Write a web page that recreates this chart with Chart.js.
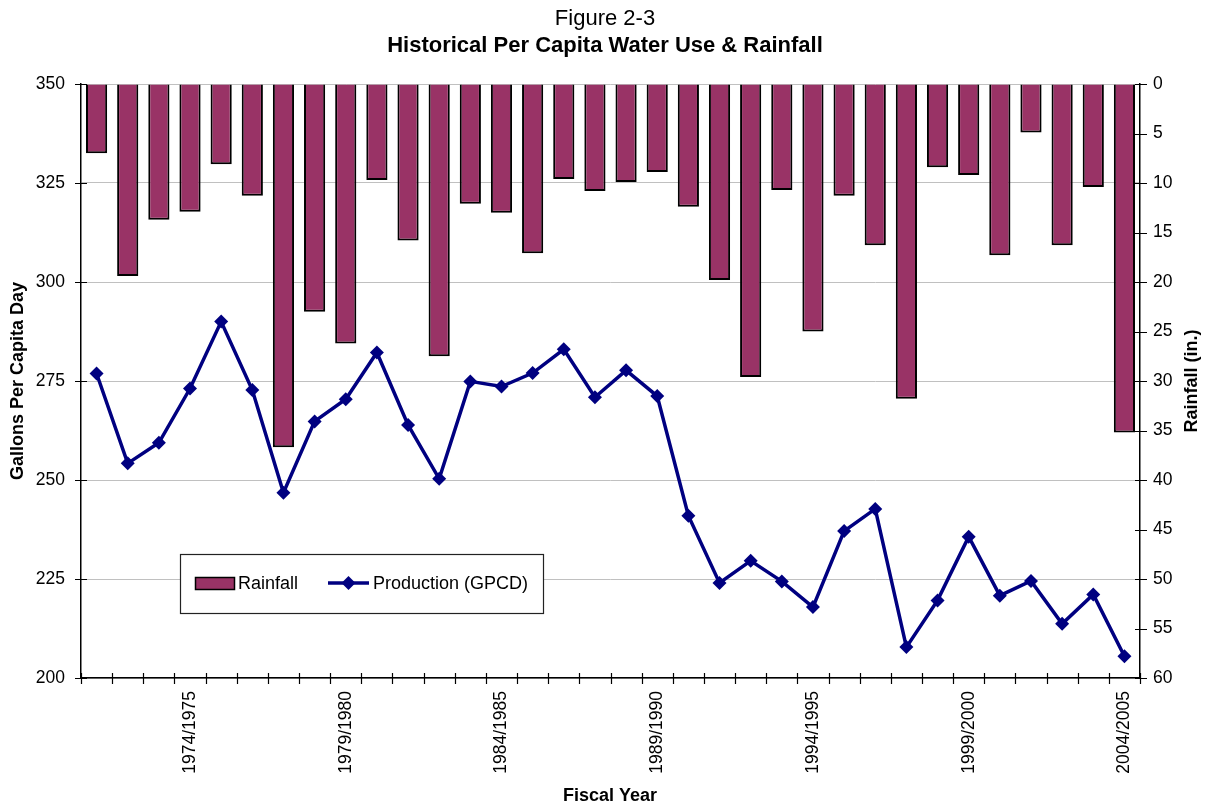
<!DOCTYPE html>
<html>
<head>
<meta charset="utf-8">
<script src="https://cdn.jsdelivr.net/npm/chart.js@4.4.1/dist/chart.umd.min.js"></script>
<style>
  html, body { margin: 0; padding: 0; background: #fff; }
  canvas { display: block; }
</style>
</head>
<body>
<canvas id="chart" width="1207" height="806"></canvas>
<script>
// Fiscal years on the category axis
const fiscalYears = [
  '1971/1972', '1972/1973', '1973/1974', '1974/1975', '1975/1976',
  '1976/1977', '1977/1978', '1978/1979', '1979/1980', '1980/1981',
  '1981/1982', '1982/1983', '1983/1984', '1984/1985', '1985/1986',
  '1986/1987', '1987/1988', '1988/1989', '1989/1990', '1990/1991',
  '1991/1992', '1992/1993', '1993/1994', '1994/1995', '1995/1996',
  '1996/1997', '1997/1998', '1998/1999', '1999/2000', '2000/2001',
  '2001/2002', '2002/2003', '2003/2004', '2004/2005'
];

// Annual rainfall, inches (bars hang from the top on the reversed right axis)
const rainfallInches = [
  7.0, 19.4, 13.7, 12.9, 8.1, 11.3, 36.7, 23.0, 26.2, 9.7,
  15.8, 27.5, 12.1, 13.0, 17.1, 9.6, 10.8, 9.9, 8.9, 12.4,
  19.8, 29.6, 10.7, 25.0, 11.3, 16.3, 31.8, 8.4, 9.2, 17.3,
  4.9, 16.3, 10.4, 35.2
];

// Water production, gallons per capita per day
const productionGPCD = [
  276.9, 254.2, 259.4, 273.1, 290.0, 272.7, 246.8, 264.8, 270.4, 282.2,
  263.9, 250.3, 274.9, 273.6, 277.0, 283.0, 270.9, 277.7, 271.2, 241.0,
  224.0, 229.6, 224.4, 217.9, 237.1, 242.7, 207.8, 219.6, 235.7, 220.8,
  224.5, 213.7, 221.1, 205.5
];

// Axis ranges and tick steps
const gpcdAxis = [200, 350, 25];
const rainAxis = [0, 60, 5];

// Every fifth fiscal year gets a label
const labelEvery = 5;
const labelOffset = 3;

const FONT = "'Liberation Sans', Arial, Helvetica, sans-serif";
Chart.defaults.font.family = FONT;
Chart.defaults.color = '#000';

const BAR_COLOR = '#993366';
const LINE_COLOR = '#000080';

// Titles, axis titles, crossing tick marks and the boxed legend
const decorations = {
  id: 'decorations',
  afterDraw(chart) {
    const ctx = chart.ctx;
    const { x, y, rain } = chart.scales;
    ctx.save();

    // Tick marks crossing each axis line
    ctx.strokeStyle = '#000';
    ctx.lineWidth = 1.2;
    ctx.beginPath();
    y.ticks.forEach((t, i) => {
      const py = Math.round(y.getPixelForTick(i)) + 0.5;
      ctx.moveTo(y.right - 6, py); ctx.lineTo(y.right + 6, py);
    });
    rain.ticks.forEach((t, i) => {
      const py = Math.round(rain.getPixelForTick(i)) + 0.5;
      ctx.moveTo(rain.left - 5, py); ctx.lineTo(rain.left + 7, py);
    });
    const n = fiscalYears.length;
    for (let i = 0; i <= n; i++) {
      const px = Math.round(x.left + i * (x.width / n)) + 0.5;
      ctx.moveTo(px, x.top - 5); ctx.lineTo(px, x.top + 6);
    }
    ctx.stroke();

    // Chart titles
    ctx.fillStyle = '#000';
    ctx.textAlign = 'center';
    ctx.textBaseline = 'middle';
    ctx.font = `22px ${FONT}`;
    ctx.fillText('Figure 2-3', 605, 19);
    ctx.font = `bold 22px ${FONT}`;
    ctx.fillText('Historical Per Capita Water Use & Rainfall', 605, 46);

    // Axis titles
    ctx.font = `bold 18px ${FONT}`;
    ctx.fillText('Fiscal Year', 610, 796);
    const midY = (chart.chartArea.top + chart.chartArea.bottom) / 2;
    ctx.save();
    ctx.translate(18, midY);
    ctx.rotate(-Math.PI / 2);
    ctx.fillText('Gallons Per Capita Day', 0, 0);
    ctx.restore();
    ctx.save();
    ctx.translate(1192, midY);
    ctx.rotate(-Math.PI / 2);
    ctx.fillText('Rainfall (in.)', 0, 0);
    ctx.restore();

    // Legend box inside the plot
    const bx = 180, by = 554, bw = 363, bh = 59;
    ctx.fillStyle = '#fff';
    ctx.fillRect(bx, by, bw, bh);
    ctx.strokeStyle = '#222';
    ctx.lineWidth = 1.2;
    ctx.strokeRect(bx + 0.5, by + 0.5, bw, bh);

    const ly = by + 29;
    const barDs = chart.data.datasets[0];
    const lineDs = chart.data.datasets[1];
    ctx.fillStyle = barDs.backgroundColor;
    ctx.fillRect(195, ly - 6, 39, 12);
    ctx.strokeStyle = '#000';
    ctx.lineWidth = 1.5;
    ctx.strokeRect(195.5, ly - 5.5, 39, 12);

    ctx.strokeStyle = lineDs.borderColor;
    ctx.lineWidth = 3.5;
    ctx.beginPath();
    ctx.moveTo(328, ly); ctx.lineTo(369, ly);
    ctx.stroke();
    ctx.fillStyle = lineDs.borderColor;
    Chart.helpers.drawPoint(ctx, { pointStyle: 'rectRot', radius: 7, borderWidth: 0 }, 348.5, ly);

    ctx.fillStyle = '#000';
    ctx.textAlign = 'left';
    ctx.font = `18px ${FONT}`;
    ctx.fillText(barDs.label, 238, ly + 1);
    ctx.fillText(lineDs.label, 373, ly + 1);

    ctx.restore();
  }
};

new Chart(document.getElementById('chart'), {
  data: {
    labels: fiscalYears,
    datasets: [
      {
        type: 'bar',
        label: 'Rainfall',
        data: rainfallInches,
        yAxisID: 'rain',
        backgroundColor: BAR_COLOR,
        borderColor: '#000',
        borderWidth: 2,
        barPercentage: 0.68,
        categoryPercentage: 1.0,
        order: 2
      },
      {
        type: 'line',
        label: 'Production (GPCD)',
        data: productionGPCD,
        yAxisID: 'y',
        borderColor: LINE_COLOR,
        backgroundColor: LINE_COLOR,
        borderWidth: 3.5,
        tension: 0,
        pointStyle: 'rectRot',
        pointRadius: 7,
        pointBorderWidth: 0,
        pointBackgroundColor: LINE_COLOR,
        order: 1
      }
    ]
  },
  options: {
    responsive: false,
    animation: false,
    layout: { padding: { top: 84, left: 0, right: 0, bottom: 0 } },
    plugins: {
      legend: { display: false },
      tooltip: { enabled: false },
      title: { display: false }
    },
    scales: {
      x: {
        type: 'category',
        offset: true,
        grid: { display: false, drawTicks: false },
        border: { display: true, color: '#000', width: 1.5 },
        ticks: {
          autoSkip: false,
          minRotation: 90,
          maxRotation: 90,
          padding: 13,
          font: { size: 17.5 },
          callback(value, index) {
            return index % labelEvery === labelOffset ? this.getLabelForValue(value) : '';
          }
        },
        afterFit(scale) { scale.height = 128; }
      },
      y: {
        position: 'left',
        min: gpcdAxis[0],
        max: gpcdAxis[1],
        grid: { color: '#c0c0c0', lineWidth: 1, drawTicks: false },
        border: { display: true, color: '#000', width: 1.5 },
        ticks: { stepSize: gpcdAxis[2], padding: 16, font: { size: 17.5 } },
        afterFit(scale) { scale.width = 81; }
      },
      rain: {
        position: 'right',
        reverse: true,
        min: rainAxis[0],
        max: rainAxis[1],
        grid: { drawOnChartArea: false, drawTicks: false },
        border: { display: true, color: '#000', width: 1.5 },
        ticks: { stepSize: rainAxis[2], padding: 13, font: { size: 17.5 } },
        afterFit(scale) { scale.width = 67; }
      }
    }
  },
  plugins: [decorations]
});
</script>
</body>
</html>
